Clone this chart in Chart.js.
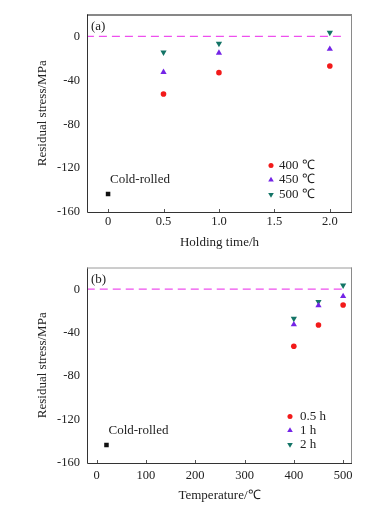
<!DOCTYPE html>
<html>
<head>
<meta charset="utf-8">
<script src="https://cdn.jsdelivr.net/npm/chart.js"></script>
<style>
  html, body { margin: 0; padding: 0; background: #fff; }
  #wrap { position: relative; width: 375px; height: 507px; }
  #chartA { position: absolute; left: 0; top: 0; }
  #chartB { position: absolute; left: 0; top: 253px; }
</style>
</head>
<body>
<div id="wrap">
  <canvas id="chartA" width="375" height="253"></canvas>
  <canvas id="chartB" width="375" height="254"></canvas>
</div>
<script>
// datos (MPa)
const holdingTimes = [0.5, 1.0, 2.0];
const temperatures = [400, 450, 500];

// (a) por temperatura, en funcion del tiempo
const stress400C = [-52.5, -33, -27];
const stress450C = [-32.5, -15, -11.5];
const stress500C = [-14.5, -6.5, 3.5];

// (b) por tiempo, en funcion de la temperatura
const stress05h = [-52.5, -33, -14.5];
const stress1h = [-32.5, -15, -6.5];
const stress2h = [-27, -11.5, 3.5];

const coldRolledTime = 0;
const coldRolledTemp = 20;
const coldRolledStress = -143.5;

const zeroLineA = [-0.2, 2.12];
const zeroLineB = [-20, 500];

const yTicks = [-160, -120, -80, -40, 0];
const xTicksA = [0, 0.5, 1.0, 1.5, 2.0];
const xTicksB = [0, 100, 200, 300, 400, 500];

const legendA = ['400 \u2103', '450 \u2103', '500 \u2103'];
const legendB = ['0.5 h', '1 h', '2 h'];

const serif = '"Liberation Serif", "Times New Roman", serif';
const red = '#f21a1a';
const violet = '#7424e6';
const teal = '#137466';

function puntos(xs, ys) {
    return xs.map((v, i) => ({ x: v, y: ys[i] }));
}

function seriesStyle(color, style, rotation, radius) {
    return {
        backgroundColor: color,
        borderColor: color,
        borderWidth: 0,
        pointStyle: style,
        rotation: rotation,
        pointRadius: radius,
        showLine: false
    };
}

// marco, marcas internas, etiqueta del panel, texto Cold-rolled y leyenda
const panelDecor = {
    id: 'panelDecor',
    afterDatasetsDraw(chart, args, opts) {
        const { ctx, chartArea: a, scales: { x, y } } = chart;
        ctx.save();

        ctx.lineWidth = 1;
        ctx.strokeStyle = '#333';
        ctx.beginPath();
        ctx.moveTo(a.left + 0.5, a.top);
        ctx.lineTo(a.left + 0.5, a.bottom + 0.5);
        ctx.lineTo(a.right, a.bottom + 0.5);
        ctx.stroke();
        ctx.strokeStyle = opts.topColor;
        ctx.beginPath();
        ctx.moveTo(a.left, a.top + 0.5);
        ctx.lineTo(a.right, a.top + 0.5);
        ctx.stroke();
        ctx.strokeStyle = '#8a8a8a';
        ctx.beginPath();
        ctx.moveTo(a.right - 0.5, a.top);
        ctx.lineTo(a.right - 0.5, a.bottom);
        ctx.stroke();

        ctx.strokeStyle = '#555';
        opts.xTicks.forEach(v => {
            const px = Math.round(x.getPixelForValue(v)) + 0.5;
            ctx.beginPath();
            ctx.moveTo(px, a.bottom);
            ctx.lineTo(px, a.bottom - 3);
            ctx.stroke();
        });

        ctx.fillStyle = '#222';
        ctx.font = '13px ' + serif;
        ctx.textBaseline = 'middle';
        ctx.textAlign = 'left';
        ctx.fillText(opts.panel, a.left + 4, a.top + 12);

        const cx = x.getPixelForValue(opts.coldX);
        const cy = y.getPixelForValue(coldRolledStress);
        ctx.fillText('Cold-rolled', cx + 2, cy - 14.5);

        opts.legend.forEach((name, i) => {
            const ds = chart.data.datasets[i];
            const mx = a.left + opts.legendX;
            const my = a.top + opts.legendY + i * opts.legendStep;
            ctx.fillStyle = ds.backgroundColor;
            ctx.strokeStyle = ds.borderColor;
            Chart.helpers.drawPoint(ctx, {
                pointStyle: ds.pointStyle,
                rotation: ds.rotation,
                radius: ds.pointRadius * 0.9,
                borderWidth: 0
            }, mx, my);
            ctx.fillStyle = '#222';
            ctx.fillText(name, mx + opts.legendGap, my);
        });

        ctx.restore();
    }
};

function crearPanel(canvasId, cfg) {
    const ctx = document.getElementById(canvasId).getContext('2d');
    const h = ctx.canvas.height;

    return new Chart(ctx, {
        type: 'scatter',
        data: {
            datasets: [
                Object.assign({ label: cfg.legend[0], data: puntos(cfg.xs, cfg.series[0]) }, seriesStyle(red, 'circle', 0, 2.8)),
                Object.assign({ label: cfg.legend[1], data: puntos(cfg.xs, cfg.series[1]) }, seriesStyle(violet, 'triangle', 0, 3.6)),
                Object.assign({ label: cfg.legend[2], data: puntos(cfg.xs, cfg.series[2]) }, seriesStyle(teal, 'triangle', 180, 3.6)),
                Object.assign({ label: 'Cold-rolled', data: [{ x: cfg.coldX, y: coldRolledStress }] }, seriesStyle('#111', 'rect', 0, 3.2)),
                {
                    label: 'zero',
                    data: cfg.zeroLine.map(v => ({ x: v, y: 0 })),
                    showLine: true,
                    borderColor: '#ee4fee',
                    borderWidth: 1.2,
                    borderDash: [8, 5],
                    pointRadius: 0,
                    order: 10
                }
            ]
        },
        options: {
            responsive: false,
            animation: false,
            devicePixelRatio: 1,
            layout: { padding: { top: cfg.top, right: 23, left: 0, bottom: 0 } },
            plugins: {
                legend: { display: false },
                tooltip: { enabled: false },
                panelDecor: {
                    panel: cfg.panel,
                    topColor: cfg.topColor,
                    xTicks: cfg.xTicks,
                    coldX: cfg.coldX,
                    legend: cfg.legend,
                    legendX: cfg.legendX,
                    legendY: cfg.legendY,
                    legendStep: cfg.legendStep,
                    legendGap: cfg.legendGap
                }
            },
            scales: {
                x: {
                    type: 'linear',
                    min: cfg.xMin,
                    max: cfg.xMax,
                    grid: { display: false, drawTicks: false },
                    border: { display: false },
                    afterBuildTicks: scale => { scale.ticks = cfg.xTicks.map(v => ({ value: v })); },
                    afterFit: scale => { scale.height = h - cfg.bottom; },
                    ticks: {
                        padding: cfg.tickPad,
                        color: '#222',
                        font: { family: serif, size: 12.5 },
                        maxRotation: 0,
                        callback: cfg.xFormat
                    },
                    title: {
                        display: true,
                        text: cfg.xTitle,
                        color: '#222',
                        font: { family: serif, size: 13 },
                        padding: { top: 0, bottom: cfg.titlePad }
                    }
                },
                y: {
                    min: -160,
                    max: 20,
                    grid: { display: false, drawTicks: false },
                    border: { display: false },
                    afterBuildTicks: scale => { scale.ticks = yTicks.map(v => ({ value: v })); },
                    afterFit: scale => { scale.width = 87; },
                    ticks: {
                        padding: 7,
                        color: '#222',
                        font: { family: serif, size: 12.5 }
                    },
                    title: {
                        display: true,
                        text: 'Residual stress/MPa',
                        color: '#222',
                        font: { family: serif, size: 13 },
                        padding: { top: 35, bottom: 0 }
                    }
                }
            }
        },
        plugins: [panelDecor]
    });
}

crearPanel('chartA', {
    panel: '(a)',
    topColor: '#111',
    xs: holdingTimes,
    series: [stress400C, stress450C, stress500C],
    legend: legendA,
    coldX: coldRolledTime,
    zeroLine: zeroLineA,
    xMin: -0.19,
    xMax: 2.2,
    xTicks: xTicksA,
    xFormat: v => (v === 0 ? '0' : v.toFixed(1)),
    xTitle: 'Holding time/h',
    top: 13,
    bottom: 212,
    tickPad: 2,
    titlePad: 3,
    legendX: 184,
    legendY: 151,
    legendStep: 14.5,
    legendGap: 8
});

crearPanel('chartB', {
    panel: '(b)',
    topColor: '#9a9a9a',
    xs: temperatures,
    series: [stress05h, stress1h, stress2h],
    legend: legendB,
    coldX: coldRolledTemp,
    zeroLine: zeroLineB,
    xMin: -19.5,
    xMax: 518,
    xTicks: xTicksB,
    xFormat: v => String(v),
    xTitle: 'Temperature/\u2103',
    top: 11,
    bottom: 210,
    tickPad: 5,
    titlePad: 4,
    legendX: 203,
    legendY: 149,
    legendStep: 14,
    legendGap: 10
});
</script>
</body>
</html>
